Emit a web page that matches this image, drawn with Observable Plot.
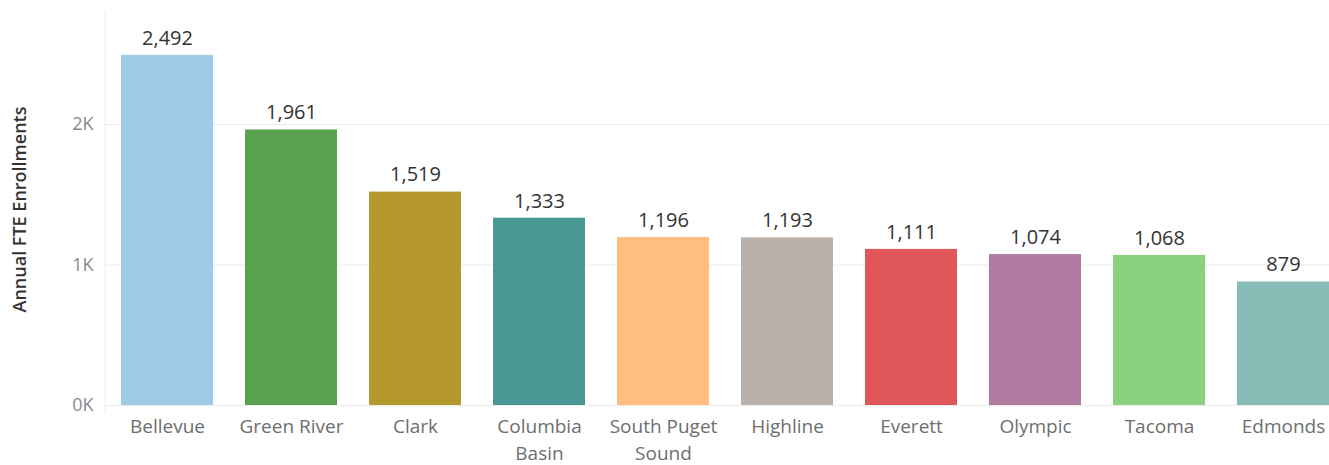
<!DOCTYPE html>
<html>
<head>
<meta charset="utf-8">
<script src="https://cdn.jsdelivr.net/npm/d3@7"></script>
<script src="https://cdn.jsdelivr.net/npm/@observablehq/plot@0.6"></script>
<style>
  html, body { margin: 0; padding: 0; background: #fff; overflow: hidden; }
  #chart svg { display: block; }
</style>
</head>
<body>
<div id="chart"></div>
<script>
const colleges = ["Bellevue", "Green River", "Clark", "Columbia Basin", "South Puget Sound", "Highline", "Everett", "Olympic", "Tacoma", "Edmonds"];
const enrollments = [2492, 1961, 1519, 1333, 1196, 1193, 1111, 1074, 1068, 879];
const barColors = ["#A0CBE8", "#59A14F", "#B6992D", "#499894", "#FFBE7D", "#BAB0AC", "#E15759", "#B07AA1", "#8CD17D", "#86BCB6"];
const yTicks = [0, 1000, 2000];
const tickLabels = {"Columbia Basin": "Columbia\nBasin", "South Puget Sound": "South Puget\nSound"};
const yTitle = "Annual FTE Enrollments";

const data = colleges.map((c, i) => ({college: c, value: enrollments[i], color: barColors[i]}));
const font = "'Open Sans', 'Noto Sans', sans-serif";

const chart = Plot.plot({
  width: 1329,
  height: 465,
  marginTop: 13,
  marginBottom: 60,
  marginLeft: 105,
  marginRight: -16,
  style: {fontFamily: font, background: "#fff"},
  x: {domain: colleges, paddingInner: 0.258, paddingOuter: 0.129},
  y: {domain: [0, 2790]},
  marks: [
    Plot.ruleY(yTicks, {stroke: "#ebebeb", strokeWidth: 1}),
    Plot.barY(data, {x: "college", y: "value", fill: "color"}),
    Plot.text(data, {x: "college", y: "value", text: d => d3.format(",")(d.value), dy: -17, fontSize: 20, fill: "#333", fontFamily: font}),
    Plot.axisY({ticks: yTicks, tickFormat: d => (d / 1000) + "K", tickSize: 0, tickPadding: 12, fontSize: 18, color: "#8a8a8a", label: null, fontFamily: font}),
    Plot.axisX({tickFormat: d => tickLabels[d] || d, tickSize: 0, tickPadding: 8, fontSize: 19, color: "#6e6e6e", label: null, lineHeight: 1.42, fontFamily: font}),
    Plot.text([yTitle], {frameAnchor: "left", text: d => d, rotate: -90, dx: -85, dy: 0, fontSize: 18, fontWeight: 600, fill: "#333", fontFamily: font, textAnchor: "middle"})
  ]
});

const svg = d3.select(chart);
svg.insert("line", ":first-child")
  .attr("x1", 105).attr("x2", 105).attr("y1", 10).attr("y2", 414)
  .attr("stroke", "#ebebeb");
document.getElementById("chart").appendChild(chart);
</script>
</body>
</html>
